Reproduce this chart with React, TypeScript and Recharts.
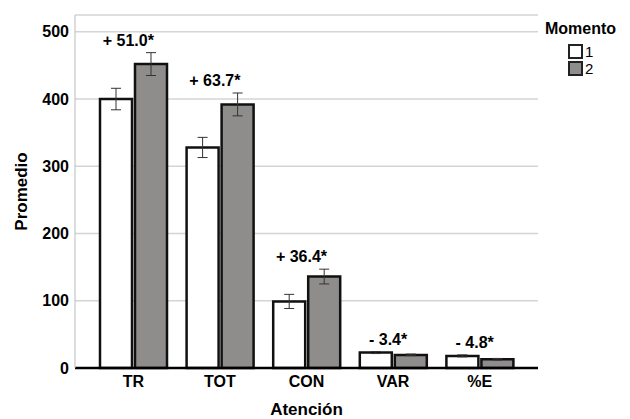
import React from 'react';
import { ComposedChart, Bar, Line, XAxis, YAxis, CartesianGrid, ErrorBar, LabelList } from 'recharts';

const categories = ['TR', 'TOT', 'CON', 'VAR', '%E'];
const momento1 = [400, 328, 99, 23, 18];
const momento2 = [452, 392, 136, 19.5, 13];
const err1 = [16, 15, 10.5, 1.5, 1.5];
const err2 = [17, 17, 11, 1.2, 1.2];
const diffLabels = ['+ 51.0*', '+ 63.7*', '+ 36.4*', '- 3.4*', '- 4.8*'];
const yTicks = [0, 100, 200, 300, 400, 500];

const FONT = "Arial, 'Liberation Sans', sans-serif";
const GRAY = '#8f8c8c';

const data = categories.map((c, i) => ({
  cat: c,
  m1: momento1[i],
  m2: momento2[i],
  e1: err1[i],
  e2: err2[i],
  top: Math.max(momento1[i] + err1[i], momento2[i] + err2[i]),
  lab: diffLabels[i],
}));

const DiffLabel = (props: any) => {
  const { x, y, index } = props;
  return (
    <text x={x - 5} y={y - 7} textAnchor="middle" fontFamily={FONT} fontWeight="bold" fontSize={16} fill="#000">
      {diffLabels[index]}
    </text>
  );
};

export default function App() {
  return (
    <div style={{ position: 'absolute', left: 0, top: 0, width: 630, height: 419, background: '#fff' }}>
      <ComposedChart
        width={630}
        height={419}
        data={data}
        margin={{ top: 15, right: 92, left: 0, bottom: 0 }}
        barSize={32}
        barGap={3}
      >
        <CartesianGrid vertical={false} stroke="#d4d4d4" strokeWidth={1.5} />
        <XAxis
          dataKey="cat"
          height={51}
          padding={{ left: 15, right: 15 }}
          tickLine={false}
          axisLine={{ stroke: '#000', strokeWidth: 2.5 }}
          tickMargin={2}
          tick={{ fontFamily: FONT, fontWeight: 'bold', fontSize: 16, fill: '#000' }}
          label={{ value: 'Atención', position: 'insideBottom', offset: 4, fontFamily: FONT, fontWeight: 'bold', fontSize: 17, fill: '#000' }}
        />
        <YAxis
          width={75}
          domain={[0, 525]}
          ticks={yTicks}
          tickLine={false}
          axisLine={{ stroke: '#bbbbbb', strokeWidth: 1 }}
          tickMargin={0}
          tick={{ fontFamily: FONT, fontWeight: 'bold', fontSize: 16, fill: '#000' }}
          label={(p: any) => {
            const vb = p.viewBox;
            const cx = 21;
            const cy = vb.y + vb.height / 2;
            return (
              <text x={cx} y={cy} transform={`rotate(-90 ${cx} ${cy})`} textAnchor="middle" dominantBaseline="central" fontFamily={FONT} fontWeight="bold" fontSize={17} fill="#000">
                Promedio
              </text>
            );
          }}
        />
        <Bar dataKey="m1" fill="#ffffff" stroke="#111" strokeWidth={2.5} isAnimationActive={false}>
          <ErrorBar dataKey="e1" width={5} stroke="#333" strokeWidth={1} direction="y" />
        </Bar>
        <Bar dataKey="m2" fill={GRAY} stroke="#111" strokeWidth={2.5} isAnimationActive={false}>
          <ErrorBar dataKey="e2" width={5} stroke="#333" strokeWidth={1} direction="y" />
        </Bar>
        <Line dataKey="top" stroke="none" dot={false} activeDot={false} isAnimationActive={false} legendType="none">
          <LabelList dataKey="lab" content={DiffLabel} />
        </Line>
      </ComposedChart>
      <div style={{ position: 'absolute', left: 545, top: 19, fontFamily: FONT, color: '#000' }}>
        <div style={{ fontWeight: 'bold', fontSize: 16, lineHeight: '20px' }}>Momento</div>
        <div style={{ marginLeft: 23, marginTop: 4 }}>
          <div style={{ display: 'flex', alignItems: 'center', height: 17, fontSize: 15 }}>
            <div style={{ width: 11, height: 11, border: '2px solid #222', background: '#fff', marginRight: 2 }} />
            <span>1</span>
          </div>
          <div style={{ display: 'flex', alignItems: 'center', height: 17, fontSize: 15 }}>
            <div style={{ width: 11, height: 11, border: '2px solid #222', background: GRAY, marginRight: 2 }} />
            <span>2</span>
          </div>
        </div>
      </div>
    </div>
  );
}
